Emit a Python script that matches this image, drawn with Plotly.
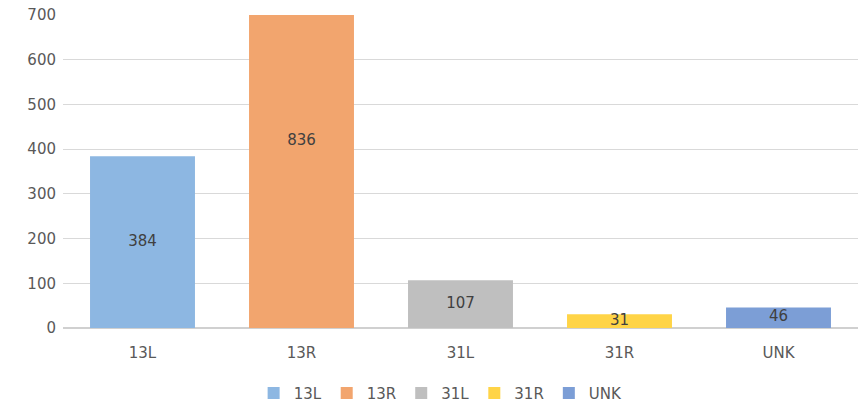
import plotly.graph_objects as go

categories = ["13L", "13R", "31L", "31R", "UNK"]
values = [384, 836, 107, 31, 46]
colors = ["#8DB7E2", "#F2A56E", "#BFBFBF", "#FFD447", "#7C9ED6"]
y_ticks = [0, 100, 200, 300, 400, 500, 600, 700]

fig = go.Figure()
for c, v, col in zip(categories, values, colors):
    fig.add_trace(go.Bar(x=[c], y=[v], name=c, marker=dict(color=col, line=dict(width=0)),
                         width=0.66, hoverinfo="x+y"))

fig.add_trace(go.Scatter(x=categories, y=[v / 2 for v in values], mode="text",
                         text=[str(v) for v in values], showlegend=False,
                         textfont=dict(family="DejaVu Sans", size=15, color="#404040"),
                         hoverinfo="skip"))

fig.update_layout(
    width=858, height=405,
    margin=dict(l=63, r=0, t=15, b=77, autoexpand=False),
    paper_bgcolor="white", plot_bgcolor="white",
    barmode="overlay",
    font=dict(family="DejaVu Sans", size=15, color="#595959"),
    xaxis=dict(categoryorder="array", categoryarray=categories, showgrid=False,
               showline=False, ticks="", automargin=False, ticklabelstandoff=14,
               tickfont=dict(size=15, color="#595959")),
    yaxis=dict(range=[0, 700.3], tickvals=y_ticks, showgrid=True, gridcolor="#D9D9D9",
               gridwidth=1, zeroline=True, zerolinecolor="#D0D0D0", zerolinewidth=1.5,
               ticks="", ticklabelstandoff=6, automargin=False,
               ticklabeloverflow="allow",
               tickfont=dict(size=15, color="#595959")),
    legend=dict(orientation="h", x=0.475, xanchor="center", y=-0.156, yanchor="top",
                font=dict(size=15, color="#595959"), itemwidth=30, tracegroupgap=0),
    showlegend=True,
)

fig.write_html("out.html", config={"displayModeBar": False},
               post_script="document.body.style.margin='0';")
